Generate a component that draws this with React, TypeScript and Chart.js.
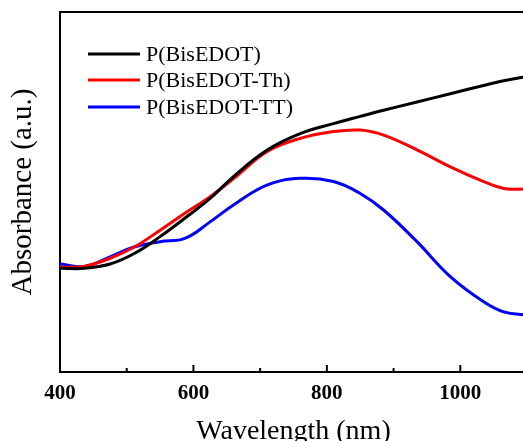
import React, { useEffect, useRef } from "react";
import { Chart, registerables } from "chart.js";

Chart.register(...registerables);

const wavelengths = [400, 437, 475, 512, 550, 587, 625, 660, 710, 760, 810, 850, 885, 935, 985, 1035, 1065, 1100];
const bisEDOT = [28.8, 28.8, 30.0, 33.0, 37.6, 42.7, 48.2, 54.3, 61.6, 66.2, 69.0, 71.0, 72.7, 75.0, 77.3, 79.6, 80.9, 82.1];
const bisEDOTTh = [29.1, 29.4, 31.6, 34.8, 39.4, 44.1, 48.7, 53.7, 61.2, 64.9, 66.8, 67.2, 65.8, 61.7, 57.0, 52.9, 51.0, 50.8];
const bisEDOTTT = [30.0, 29.3, 32.0, 34.8, 36.2, 37.1, 41.7, 46.4, 51.9, 53.8, 52.9, 49.6, 45.0, 36.2, 26.5, 19.5, 16.7, 15.8];
const seriesLabels = ["P(BisEDOT)", "P(BisEDOT-Th)", "P(BisEDOT-TT)"];
const seriesColors = ["#000000", "#ff0000", "#0000ff"];
const xTickLabels = [400, 600, 800, 1000];

const SERIF = '"Liberation Serif", "Times New Roman", serif';

const frameTicks = {
  id: "frameTicks",
  afterDraw(chart: any) {
    const { ctx, chartArea, scales } = chart;
    const x = scales.x;
    ctx.save();
    ctx.strokeStyle = "#000";
    ctx.lineWidth = 2;
    x.ticks.forEach((t: any) => {
      const px = x.getPixelForValue(t.value);
      if (px <= chartArea.left + 1 || px > chartArea.right) return;
      const major = xTickLabels.includes(t.value);
      const len = major ? 7 : 4;
      ctx.beginPath();
      ctx.moveTo(px, chartArea.bottom);
      ctx.lineTo(px, chartArea.bottom - len);
      ctx.stroke();
    });
    // legend
    const rows = [54, 80, 107];
    ctx.font = `22px ${SERIF}`;
    ctx.textBaseline = "middle";
    ctx.fillStyle = "#000";
    chart.data.datasets.forEach((ds: any, i: number) => {
      ctx.strokeStyle = ds.borderColor;
      ctx.lineWidth = 3;
      ctx.beginPath();
      ctx.moveTo(88, rows[i]);
      ctx.lineTo(140, rows[i]);
      ctx.stroke();
      ctx.fillText(ds.label, 146, rows[i] + 1);
    });
    ctx.restore();
  },
};

export default function App() {
  const ref = useRef<HTMLCanvasElement>(null);
  useEffect(() => {
    const series = [bisEDOT, bisEDOTTh, bisEDOTTT];
    const chart = new Chart(ref.current as HTMLCanvasElement, {
      type: "line",
      data: {
        datasets: series.map((vals, i) => ({
          label: seriesLabels[i],
          data: wavelengths.map((w, j) => ({ x: w, y: vals[j] })),
          borderColor: seriesColors[i],
          backgroundColor: seriesColors[i],
          borderWidth: 3,
          pointRadius: 0,
          tension: 0.4,
          fill: false,
        })),
      },
      options: {
        animation: false,
        responsive: false,
        layout: { padding: { left: 0, right: 13, top: 0, bottom: 0 } },
        plugins: { legend: { display: false }, tooltip: { enabled: false } },
        scales: {
          x: {
            type: "linear",
            position: "bottom",
            min: 400,
            max: 1100,
            afterFit: (s: any) => { s.height = 69; },
            grid: { display: false },
            border: { display: true, color: "#000", width: 2 },
            ticks: {
              stepSize: 100,
              autoSkip: false,
              maxRotation: 0,
              padding: 1,
              color: "#000",
              font: { family: SERIF, size: 21, weight: "bold" },
              callback: (v: any) => (xTickLabels.includes(Number(v)) ? String(v) : ""),
            },
            title: {
              display: true,
              text: "Wavelength (nm)",
              color: "#000",
              font: { family: SERIF, size: 28, lineHeight: 0.7 },
              padding: { top: 0, bottom: 0 },
            },
          },
          x2: {
            type: "linear",
            position: "top",
            min: 400,
            max: 1100,
            afterFit: (s: any) => { s.height = 12; },
            grid: { display: false },
            border: { display: true, color: "#000", width: 2 },
            ticks: { display: false },
          },
          y: {
            type: "linear",
            min: 0,
            max: 100,
            afterFit: (s: any) => { s.width = 60; },
            grid: { display: false },
            border: { display: true, color: "#000", width: 2 },
            ticks: { display: false },
            title: {
              display: true,
              text: "Absorbance (a.u.)",
              color: "#000",
              font: { family: SERIF, size: 29, lineHeight: 1.2 },
              padding: { top: 6, bottom: 0 },
            },
          },
        },
      },
      plugins: [frameTicks],
    } as any);
    return () => chart.destroy();
  }, []);
  return (
    <div style={{ position: "fixed", left: 0, top: 0, width: 540, height: 441, background: "#fff" }}>
      <canvas ref={ref} width={540} height={441} style={{ display: "block" }} />
    </div>
  );
}
